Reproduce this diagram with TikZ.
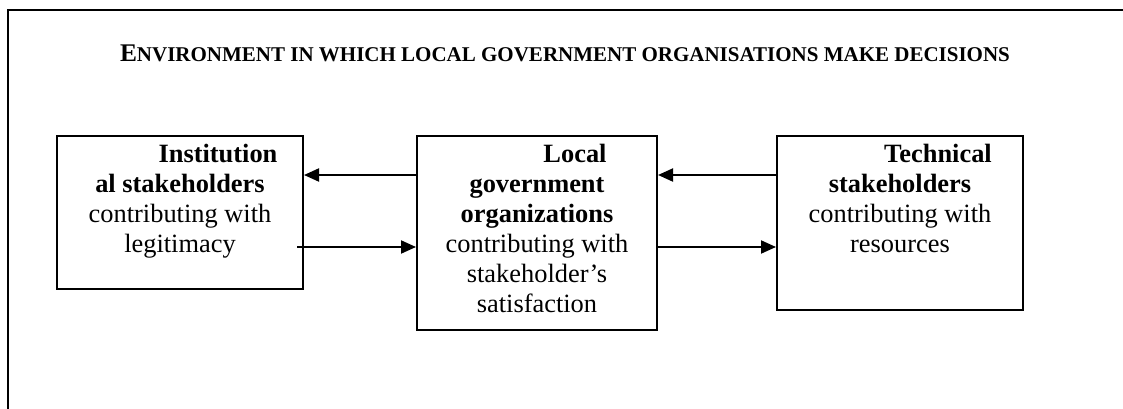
\documentclass[tikz,border=0pt]{standalone}
\usepackage{fontspec}
\setmainfont{Liberation Serif}
\usetikzlibrary{arrows.meta,positioning,calc}

\begin{document}
\begin{tikzpicture}[x=0.5pt,y=0.5pt,
        box/.style={draw, line width=1pt, minimum width=123pt, inner sep=0pt},
        boxText/.style={align=center, inner sep=0pt, font=\fontsize{13.2}{15}\selectfont},
        arr/.style={line width=1pt, -{Triangle[length=7.5pt,width=6.5pt]}}]
        \useasboundingbox (0,0) rectangle (1123,408);
        % outer frame, cut off by the page at right and bottom
        \draw[line width=1pt] (8,-20) rectangle (1160,398);

        \node[anchor=base, font=\bfseries] (title) at (565,346)
            {{\fontsize{12.7}{15}\selectfont E}{\fontsize{10.5}{15}\selectfont NVIRONMENT IN WHICH LOCAL GOVERNMENT ORGANISATIONS MAKE DECISIONS}};

        \node[box, minimum height=76.5pt] (inst) at (180,195.5) {};
        \node[box, minimum width=120pt, minimum height=97pt] (lgo) at (537,175) {};
        \node[box, minimum height=87pt] (tech) at (900,185) {};

        \node[boxText, below=4.5pt of inst.north] (instText)
            {\hspace*{38pt}\textbf{Institution}\\ \textbf{al stakeholders}\\ contributing with\\ legitimacy};
        \node[boxText, below=4.5pt of lgo.north] (lgoText)
            {\hspace*{38pt}\textbf{Local}\\ \textbf{government}\\ \textbf{organizations}\\ contributing with\\ stakeholder’s\\ satisfaction};
        \node[boxText, below=4.5pt of tech.north] (techText)
            {\hspace*{38pt}\textbf{Technical}\\ \textbf{stakeholders}\\ contributing with\\ resources};

        \coordinate (topRow) at (0,233);
        \coordinate (botRow) at (0,161);
        \draw[arr] (lgo.west |- topRow) -- (inst.east |- topRow);
        \draw[arr] ($(inst.east |- botRow)+(-7,0)$) -- (lgo.west |- botRow);
        \draw[arr] (tech.west |- topRow) -- (lgo.east |- topRow);
        \draw[arr] (lgo.east |- botRow) -- (tech.west |- botRow);
\end{tikzpicture}
\end{document}
